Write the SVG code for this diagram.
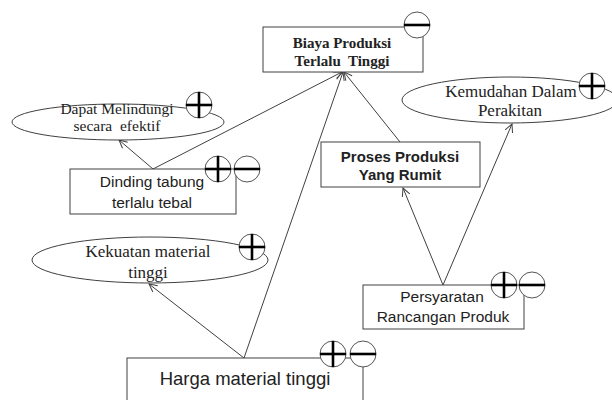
<svg xmlns="http://www.w3.org/2000/svg" width="612" height="400" viewBox="0 0 612 400">
<style>
.box{fill:#fff;stroke:#404040;stroke-width:1}
.ell{fill:#fff;stroke:#404040;stroke-width:1}
.con{fill:none;stroke:#404040;stroke-width:1;marker-end:url(#arr)}
.sig{fill:#fff;stroke:#555;stroke-width:1}
.bar{stroke:#000;stroke-width:2.6}
.serif{font-family:"Liberation Serif","Times New Roman",serif;fill:#222;text-anchor:middle}
.sans{font-family:"Liberation Sans",Arial,sans-serif;fill:#222;text-anchor:middle}
</style>
<defs>
<marker id="arr" markerWidth="10" markerHeight="10" refX="9" refY="5" orient="auto" markerUnits="userSpaceOnUse">
<path d="M1,1 L9,5 L1,9" fill="none" stroke="#404040" stroke-width="1"/>
</marker>
<g id="plus"><circle class="sig" r="13"/><line class="bar" x1="-13" y1="0" x2="13" y2="0"/><line class="bar" x1="0" y1="-13" x2="0" y2="13"/></g>
<g id="minus"><circle class="sig" r="13"/><line class="bar" x1="-13" y1="0" x2="13" y2="0"/></g>
</defs>
<rect width="612" height="400" fill="#fff"/>

<g id="connectors">
<line class="con" x1="153" y1="169" x2="119" y2="140"/>
<line class="con" x1="153" y1="169" x2="342" y2="72"/>
<line class="con" x1="244" y1="358" x2="343" y2="72"/>
<line class="con" x1="244" y1="358" x2="149" y2="284"/>
<line class="con" x1="400" y1="142" x2="344" y2="72"/>
<line class="con" x1="443" y1="285" x2="403" y2="188"/>
<line class="con" x1="443" y1="285" x2="512" y2="124"/>
</g>

<g id="biaya">
<rect class="box" x="263" y="27" width="160" height="45"/>
<text class="serif" x="342" y="48" font-size="15" font-weight="bold">Biaya Produksi</text>
<text class="serif" x="342" y="66" font-size="15" font-weight="bold" xml:space="preserve">Terlalu  Tinggi</text>
<use href="#minus" x="417" y="25"/>
</g>

<g id="dapat">
<ellipse class="ell" cx="118" cy="122" rx="106" ry="18"/>
<text class="serif" x="117" y="114" font-size="15.5">Dapat Melindungi</text>
<text class="serif" x="117" y="131" font-size="15.5" xml:space="preserve">secara  efektif</text>
<use href="#plus" x="199" y="105"/>
</g>

<g id="dinding">
<rect class="box" x="70" y="169" width="166" height="45"/>
<text class="sans" x="152" y="187" font-size="15.5">Dinding tabung</text>
<text class="sans" x="152" y="208" font-size="15.5">terlalu tebal</text>
<use href="#plus" x="218" y="169"/>
<use href="#minus" x="247" y="169"/>
</g>

<g id="proses">
<rect class="box" x="321" y="142" width="159" height="45"/>
<text class="sans" x="400" y="162" font-size="15" font-weight="bold">Proses Produksi</text>
<text class="sans" x="400" y="180" font-size="15" font-weight="bold">Yang Rumit</text>
</g>

<g id="kemudahan">
<ellipse class="ell" cx="510" cy="100" rx="108" ry="23"/>
<text class="serif" x="511" y="97" font-size="17">Kemudahan Dalam</text>
<text class="serif" x="510" y="116" font-size="17">Perakitan</text>
<use href="#plus" x="592" y="86"/>
</g>

<g id="kekuatan">
<ellipse class="ell" cx="150" cy="260" rx="118" ry="23"/>
<text class="serif" x="148" y="257" font-size="17">Kekuatan material</text>
<text class="serif" x="148" y="278" font-size="17">tinggi</text>
<use href="#plus" x="252" y="247"/>
</g>

<g id="persyaratan">
<rect class="box" x="363" y="285" width="161" height="44"/>
<text class="sans" x="442" y="302" font-size="15.5">Persyaratan</text>
<text class="sans" x="443" y="322" font-size="15.5">Rancangan Produk</text>
<use href="#plus" x="504" y="285"/>
<use href="#minus" x="532" y="285"/>
</g>

<g id="harga">
<rect class="box" x="127" y="358" width="236" height="60"/>
<text class="sans" x="245" y="385" font-size="18.5">Harga material tinggi</text>
<use href="#plus" x="333" y="354"/>
<use href="#minus" x="363" y="354"/>
</g>
</svg>
